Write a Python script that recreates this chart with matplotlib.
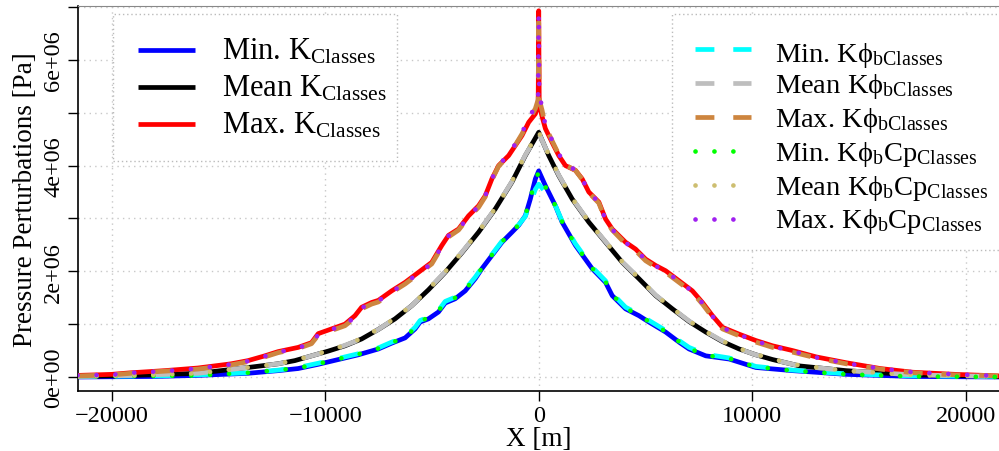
import matplotlib
matplotlib.use("Agg")
import matplotlib.pyplot as plt
from matplotlib.lines import Line2D
from matplotlib.patches import Rectangle
import numpy as np

plt.rcParams['font.family'] = ['Liberation Serif', 'DejaVu Serif']
plt.rcParams['mathtext.fontset'] = 'custom'
plt.rcParams['mathtext.rm'] = 'Liberation Serif'
plt.rcParams['mathtext.it'] = 'Liberation Serif:italic'

# ---------------- data (pressure in 1e6 Pa, X in m) ----------------
x_max = [-21600, -20000, -19100, -17527, -15962, -14398, -13615, -12832, -12207, -11268,
         -10642, -10329, -9703, -9076, -8607, -8294, -7825, -7512, -6886, -6259,
         -5634, -5008, -4538, -4225, -3756, -3286, -2817, -2504, -2191, -1878,
         -1408, -1095, -782, -469, -156, -25, 0, 25, 156, 313,
         626, 939, 1252, 1721, 2034, 2347, 2817, 3130, 3443, 4069,
         4538, 5008, 5477, 5947, 6573, 7198, 7668, 8138, 8607, 9390,
         10172, 10955, 11893, 13000, 14398, 16000, 17527, 19500, 21600]
max_k = [0.03, 0.05, 0.08, 0.12, 0.17, 0.25, 0.31, 0.40, 0.48, 0.56,
         0.65, 0.82, 0.91, 1.00, 1.16, 1.32, 1.41, 1.45, 1.63, 1.79,
         1.98, 2.17, 2.49, 2.68, 2.80, 3.05, 3.24, 3.43, 3.75, 4.00,
         4.19, 4.38, 4.57, 4.82, 4.98, 5.15, 6.93, 5.15, 4.93, 4.70,
         4.44, 4.19, 4.00, 3.91, 3.75, 3.50, 3.31, 2.99, 2.80, 2.55,
         2.42, 2.23, 2.11, 2.01, 1.82, 1.63, 1.41, 1.16, 0.94, 0.81,
         0.69, 0.59, 0.50, 0.38, 0.27, 0.16, 0.09, 0.05, 0.02]
max_kphib = [0.02, 0.04, 0.07, 0.11, 0.15, 0.23, 0.29, 0.38, 0.46, 0.54,
             0.63, 0.79, 0.88, 0.97, 1.12, 1.29, 1.38, 1.42, 1.60, 1.76,
             1.95, 2.14, 2.46, 2.65, 2.78, 3.02, 3.21, 3.41, 3.73, 3.99,
             4.19, 4.39, 4.60, 4.85, 5.08, 5.25, 6.90, 5.25, 5.05, 4.74,
             4.47, 4.21, 4.01, 3.91, 3.74, 3.49, 3.29, 2.97, 2.78, 2.52,
             2.39, 2.20, 2.08, 1.98, 1.79, 1.60, 1.38, 1.13, 0.91, 0.78,
             0.66, 0.56, 0.47, 0.36, 0.25, 0.15, 0.08, 0.04, 0.02]
max_kphibcp = [0.03, 0.04, 0.08, 0.11, 0.16, 0.24, 0.30, 0.39, 0.47, 0.55,
               0.64, 0.80, 0.90, 0.98, 1.14, 1.31, 1.39, 1.44, 1.61, 1.78,
               1.96, 2.15, 2.48, 2.67, 2.79, 3.04, 3.23, 3.43, 3.75, 4.01,
               4.21, 4.41, 4.62, 4.90, 5.12, 5.35, 6.88, 5.35, 5.10, 4.76,
               4.48, 4.22, 4.02, 3.92, 3.75, 3.50, 3.30, 2.98, 2.79, 2.54,
               2.41, 2.22, 2.10, 2.00, 1.81, 1.62, 1.40, 1.15, 0.93, 0.80,
               0.68, 0.58, 0.49, 0.37, 0.26, 0.16, 0.09, 0.05, 0.02]

x_mean = [-21600, -19000, -15962, -13615, -12207, -11424, -10642, -9859, -9076, -8294,
          -7512, -6729, -5947, -5164, -4382, -3599, -2817, -2034, -1252, -626,
          0, 469, 939, 1565, 2347, 3130, 3912, 4695, 5477, 6259,
          7042, 7825, 8607, 9390, 10172, 10955, 12207, 14398, 17527, 21600]
mean_k = [0.01, 0.03, 0.07, 0.18, 0.25, 0.31, 0.40, 0.49, 0.59, 0.72,
          0.90, 1.10, 1.35, 1.65, 1.98, 2.35, 2.74, 3.18, 3.69, 4.19,
          4.63, 4.19, 3.81, 3.37, 2.93, 2.55, 2.17, 1.86, 1.54, 1.29,
          1.05, 0.85, 0.67, 0.53, 0.42, 0.33, 0.21, 0.12, 0.04, 0.01]
mean_kphib = [0.01, 0.03, 0.07, 0.18, 0.25, 0.31, 0.40, 0.49, 0.60, 0.72,
              0.90, 1.11, 1.35, 1.66, 1.99, 2.36, 2.75, 3.19, 3.70, 4.20,
              4.62, 4.20, 3.82, 3.38, 2.94, 2.56, 2.18, 1.87, 1.55, 1.30,
              1.06, 0.86, 0.68, 0.53, 0.42, 0.33, 0.21, 0.12, 0.04, 0.01]
mean_kphibcp = [0.01, 0.03, 0.07, 0.18, 0.25, 0.32, 0.40, 0.50, 0.60, 0.73,
                0.91, 1.11, 1.36, 1.66, 1.99, 2.36, 2.75, 3.19, 3.70, 4.21,
                4.64, 4.21, 3.82, 3.38, 2.94, 2.56, 2.18, 1.87, 1.55, 1.30,
                1.06, 0.86, 0.68, 0.54, 0.43, 0.34, 0.22, 0.12, 0.04, 0.01]

x_min = [-21600, -18000, -15962, -13615, -12207, -11268, -10329, -9390, -8451, -7512,
         -6886, -6259, -5790, -5555, -5164, -4695, -4382, -3912, -3443, -2973,
         -2660, -2191, -1721, -1252, -939, -626, -391, -156, 0, 313,
         548, 782, 1095, 1721, 2503, 3130, 3443, 4069, 4695, 5164,
         5947, 6573, 7042, 7825, 8920, 9390, 10172, 11893, 14398, 17500, 21600]
min_k = [0.00, 0.01, 0.03, 0.07, 0.12, 0.16, 0.24, 0.33, 0.42, 0.53,
         0.64, 0.74, 0.91, 1.04, 1.10, 1.23, 1.40, 1.48, 1.63, 1.86,
         2.05, 2.30, 2.55, 2.74, 2.87, 3.05, 3.37, 3.75, 3.90, 3.62,
         3.43, 3.24, 2.93, 2.49, 2.05, 1.79, 1.54, 1.29, 1.16, 1.04,
         0.85, 0.66, 0.53, 0.40, 0.34, 0.28, 0.18, 0.12, 0.05, 0.01, 0.00]
min_kphib = [0.01, 0.02, 0.04, 0.08, 0.13, 0.18, 0.26, 0.35, 0.44, 0.55,
             0.66, 0.76, 0.94, 1.07, 1.13, 1.26, 1.43, 1.51, 1.66, 1.89,
             2.07, 2.32, 2.57, 2.76, 2.88, 3.04, 3.30, 3.55, 3.65, 3.50,
             3.40, 3.24, 2.95, 2.52, 2.08, 1.82, 1.58, 1.32, 1.19, 1.07,
             0.88, 0.69, 0.56, 0.43, 0.36, 0.30, 0.20, 0.13, 0.06, 0.02, 0.01]
min_kphibcp = [0.01, 0.02, 0.03, 0.08, 0.13, 0.17, 0.25, 0.34, 0.43, 0.54,
               0.65, 0.75, 0.93, 1.06, 1.12, 1.25, 1.42, 1.50, 1.65, 1.88,
               2.06, 2.31, 2.56, 2.75, 2.88, 3.06, 3.38, 3.74, 3.87, 3.60,
               3.42, 3.24, 2.94, 2.50, 2.06, 1.80, 1.56, 1.30, 1.17, 1.05,
               0.86, 0.67, 0.54, 0.41, 0.35, 0.29, 0.19, 0.12, 0.05, 0.01, 0.00]

labels_left = [r'Min. K$_{\mathrm{Classes}}$', r'Mean K$_{\mathrm{Classes}}$',
               r'Max. K$_{\mathrm{Classes}}$']
labels_right = ['Min. K\u03d5$_{\\mathrm{bClasses}}$', 'Mean K\u03d5$_{\\mathrm{bClasses}}$',
                'Max. K\u03d5$_{\\mathrm{bClasses}}$',
                'Min. K\u03d5$_{\\mathrm{b}}$Cp$_{\\mathrm{Classes}}$',
                'Mean K\u03d5$_{\\mathrm{b}}$Cp$_{\\mathrm{Classes}}$',
                'Max. K\u03d5$_{\\mathrm{b}}$Cp$_{\\mathrm{Classes}}$']

x_ticks = [-20000, -10000, 0, 10000, 20000]
x_ticklabels = ['\u221220000', '\u221210000', '0', '10000', '20000']
y_ticks = [0, 1e6, 2e6, 3e6, 4e6, 5e6, 6e6, 7e6]
y_ticklabels = ['0e+00', '', '2e+06', '', '4e+06', '', '6e+06', '']

# ---------------- figure ----------------
W, H = 999, 452
fig = plt.figure(figsize=(W / 100, H / 100), dpi=100)
L, R, T, B = 78, 999, 7, 392
ax = fig.add_axes([L / W, 1 - B / H, (R - L) / W, (B - T) / H])

sc = 1e6
lw = 3.4
solid_specs = [(x_min, min_k, '#0000FF'), (x_mean, mean_k, '#000000'), (x_max, max_k, '#FF0000')]
dash_specs = [(x_min, min_kphib, '#00FFFF'), (x_mean, mean_kphib, '#BEBEBE'), (x_max, max_kphib, '#CD853F')]
dot_specs = [(x_min, min_kphibcp, '#00FF00'), (x_mean, mean_kphibcp, '#CDBE70'), (x_max, max_kphibcp, '#A020F0')]
DASH = (0, (4, 4))
DOT = (0, (0.01, 4))

for xs, ys, c in solid_specs:
    ax.plot(xs, np.array(ys) * sc, color=c, lw=lw, solid_joinstyle='round', zorder=3)
for xs, ys, c in dash_specs:
    ax.plot(xs, np.array(ys) * sc, color=c, lw=lw, ls=DASH, dash_capstyle='butt', zorder=4)
for xs, ys, c in dot_specs:
    ax.plot(xs, np.array(ys) * sc, color=c, lw=lw, ls=DOT, dash_capstyle='round', zorder=5)

ax.set_xlim(-21580, 21560)
ax.set_ylim(-0.265e6, 7.02e6)
ax.set_xticks(x_ticks)
ax.set_xticklabels(x_ticklabels)
ax.set_yticks(y_ticks)
ax.set_yticklabels(y_ticklabels)
ax.tick_params(axis='both', direction='out', length=7, width=1, labelsize=17.5, pad=3)
ax.tick_params(axis='y', labelrotation=90)
for t in ax.get_yticklabels():
    t.set_va('center')

ax.grid(True, color='#C8C8C8', ls=(0, (1, 3)), lw=1, zorder=0)
ax.set_axisbelow(True)
ax.spines['right'].set_visible(False)
ax.spines['top'].set_color('#888888')
ax.spines['left'].set_linewidth(1.2)
ax.spines['bottom'].set_linewidth(1.2)

ax.set_xlabel('X [m]', fontsize=19.5, labelpad=0)
ax.set_ylabel('Pressure Perturbations [Pa]', fontsize=19.5, labelpad=4)


# ---------------- manual legends (pixel layout) ----------------
def fx(px):
    return px / W


def fy(py):
    return 1 - py / H


def legend_box(x0, y0, x1, y1):
    r = Rectangle((fx(x0), fy(y1)), fx(x1) - fx(x0), fy(y0) - fy(y1), transform=fig.transFigure,
                  facecolor='white', edgecolor='#BBBBBB', lw=1, ls=(0, (1, 2)), zorder=10)
    fig.add_artist(r)


def legend_row(hx0, hx1, hy, tx, ty, color, ls, cap, label, fs):
    ln = Line2D([fx(hx0), fx(hx1)], [fy(hy), fy(hy)], transform=fig.transFigure, color=color,
                lw=lw, ls=ls, solid_capstyle='butt', dash_capstyle=cap, zorder=11)
    fig.add_artist(ln)
    fig.text(fx(tx), fy(ty), label, fontsize=fs, va='baseline', ha='left', zorder=12)


legend_box(113, 15, 397, 162)
left_rows = [(51, 60), (88, 97), (125, 134)]
for (hy, ty), (xs, ys, c), lab in zip(left_rows, solid_specs, labels_left):
    legend_row(138, 195, hy, 222, ty, c, '-', 'butt', lab, 22)

legend_box(672, 15, 1010, 251)
right_rows = [(50, 62), (84, 93), (118, 127), (152, 161), (186, 195), (220, 228)]
right_specs = [(s, DASH, 'butt') for s in dash_specs] + [(s, DOT, 'round') for s in dot_specs]
for (hy, ty), ((xs, ys, c), ls, cap), lab in zip(right_rows, right_specs, labels_right):
    legend_row(695, 751, hy, 775, ty, c, ls, cap, lab, 20.5)

fig.savefig('out.png', dpi=100)
